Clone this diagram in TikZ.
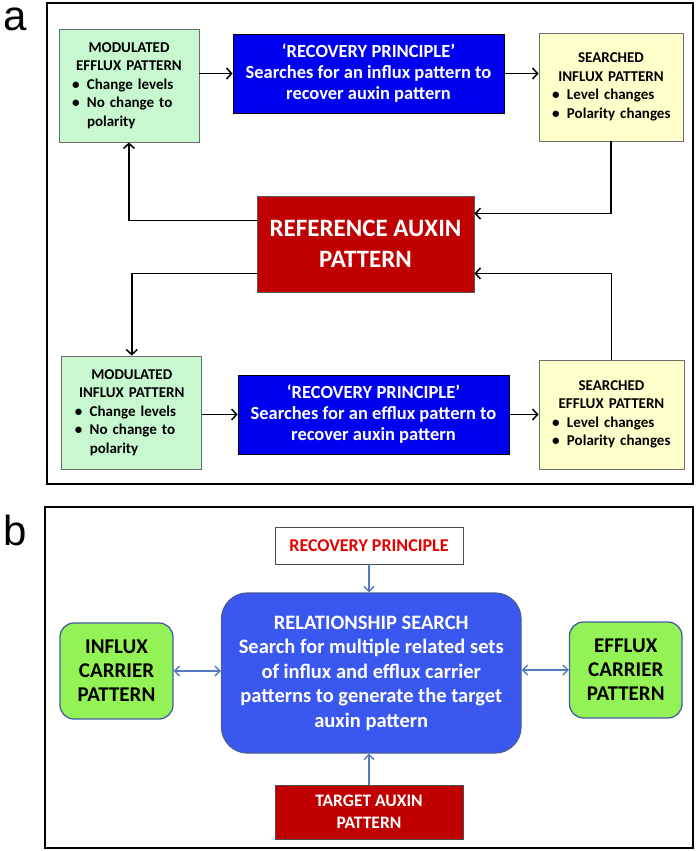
\documentclass[tikz,border=0pt]{standalone}
\usepackage{fontspec}
\setmainfont{Carlito}
\newfontfamily\panelfont{Liberation Sans}
\usetikzlibrary{arrows.meta,positioning}
\definecolor{mintA}{RGB}{200,248,208}
\definecolor{creamA}{RGB}{255,255,204}
\definecolor{blueA}{RGB}{0,0,240}
\definecolor{redA}{RGB}{192,0,0}
\definecolor{blueB}{RGB}{58,88,240}
\definecolor{greenB}{RGB}{146,242,86}
\definecolor{edgeB}{RGB}{68,94,158}
\definecolor{arrowB}{RGB}{84,124,190}
\newcommand\bul{\makebox[28pt][l]{\hspace{13pt}\textbullet}}

\begin{document}
\begin{tikzpicture}[x=1pt, y=-1pt,
    frame/.style={draw, line width=2.2pt},
    panel/.style={anchor=base west, inner sep=0pt, font={\panelfont\fontsize{42}{42}\selectfont}},
    box/.style={draw, inner sep=0pt, line width=0.9pt},
    small/.style={box, draw=gray!85!black, text width=#1, font={\fontsize{15}{18.5}\selectfont\bfseries}},
    modbox/.style={small=140pt, fill=mintA, minimum height=113pt},
    srchbox/.style={small=144pt, fill=creamA, minimum height=108pt},
    recbox/.style={box, draw=black, fill=blueA, text=white, align=center, minimum width=271pt, minimum height=79pt, font={\fontsize{18.5}{21}\selectfont\bfseries}},
    refbox/.style={box, draw=gray!70!black, fill=redA, text=white, align=center, minimum width=217pt, minimum height=96pt, font={\fontsize{25}{31}\selectfont\bfseries}},
    carrier/.style={box, draw=edgeB, line width=1.3pt, rounded corners=14pt, fill=greenB, align=center, minimum width=113pt, minimum height=96pt, font={\fontsize{21}{24}\selectfont\bfseries}},
    arr/.style={-{Straight Barb[length=5pt,width=11pt]}, line width=1.5pt},
    barr/.style={-{Straight Barb[length=5pt,width=10pt]}, line width=1.4pt, draw=arrowB},
    dbarr/.style={barr, {Straight Barb[length=5pt,width=10pt]}-{Straight Barb[length=5pt,width=10pt]}}
  ]
    \useasboundingbox (0,0) rectangle (697,851);
    \draw[frame] (47,3) rectangle (693,484);
    \draw[frame] (45,507) rectangle (693,848);
    \node[panel, text height=23pt] (labA) at (3,31) {a};
    \node[panel] (labB) at (3,545) {b};

    \node[modbox] (effMod) at (129,85.5) {{\centering MODULATED\\EFFLUX PATTERN\par}\raggedright\bul Change levels\\\bul No change to\\\hspace*{28pt}polarity\par\vspace*{10pt}};
    \node[recbox] (recTop) at (368.5,73.5) {‘RECOVERY PRINCIPLE’\\Searches for an influx pattern to\\recover auxin pattern};
    \node[srchbox] (srchInf) at (611,87) {{\centering SEARCHED\\INFLUX PATTERN\par}\raggedright\bul Level changes\\\bul Polarity changes\par\vspace*{23pt}};
    \node[refbox] (refPat) at (365.5,244) {REFERENCE AUXIN\\PATTERN};
    \node[modbox] (infMod) at (131.75,412.5) {{\centering MODULATED\\INFLUX PATTERN\par}\raggedright\bul Change levels\\\bul No change to\\\hspace*{28pt}polarity\par\vspace*{9pt}};
    \node[recbox] (recBot) at (373.5,414.5) {‘RECOVERY PRINCIPLE’\\Searches for an efflux pattern to\\recover auxin pattern};
    \node[srchbox, text width=145pt, minimum height=109pt] (srchEff) at (611.5,414.5) {{\centering SEARCHED\\EFFLUX PATTERN\par}\raggedright\bul Level changes\\\bul Polarity changes\par\vspace*{23pt}};

    \draw[arr] (effMod.east |- recTop.west) -- (recTop.west);
    \draw[arr] (recTop.east) -- (recTop.east -| srchInf.west);
    \draw[arr] (srchInf.south) |- ([yshift=-18pt]refPat.north east);
    \draw[arr] ([yshift=-25pt]refPat.north west) -| (effMod.south);
    \draw[arr] ([yshift=19pt]refPat.south west) -| (infMod.north);
    \draw[arr] (infMod.east |- recBot.west) -- (recBot.west);
    \draw[arr] (recBot.east) -- (recBot.east -| srchEff.west);
    \draw[arr] (srchEff.north) |- ([yshift=19pt]refPat.south east);

    \node[box, draw=gray!60!black, fill=white, text=red!90!black, minimum width=188pt, minimum height=37pt, font={\fontsize{18}{21}\selectfont\bfseries}] (recB) at (369,545.5) {RECOVERY PRINCIPLE};
    \node[box, draw=edgeB, line width=1.3pt, rounded corners=26pt, fill=blueB, text=white, align=center, minimum width=299.5pt, minimum height=160pt, font={\fontsize{20.5}{24.5}\selectfont\bfseries}] (relSearch) at (371.25,673) {RELATIONSHIP SEARCH\\Search for multiple related sets\\of influx and efflux carrier\\patterns to generate the target\\auxin pattern};
    \node[carrier] (influxC) at (116.5,671) {INFLUX\\CARRIER\\PATTERN};
    \node[carrier, minimum width=112.5pt] (effluxC) at (625.75,670) {EFFLUX\\CARRIER\\PATTERN};
    \node[box, draw=gray!60!black, fill=redA, text=white, align=center, minimum width=188pt, minimum height=54pt, font={\fontsize{17.5}{21.5}\selectfont\bfseries}] (target) at (369,812) {TARGET AUXIN\\PATTERN};

    \draw[barr] (recB.south) -- (recB.south |- relSearch.north);
    \draw[barr] (target.north) -- (target.north |- relSearch.south);
    \draw[dbarr] (influxC.east) -- (influxC.east -| relSearch.west);
    \draw[dbarr] (effluxC.west) -- (effluxC.west -| relSearch.east);
  \end{tikzpicture}
\end{document}
